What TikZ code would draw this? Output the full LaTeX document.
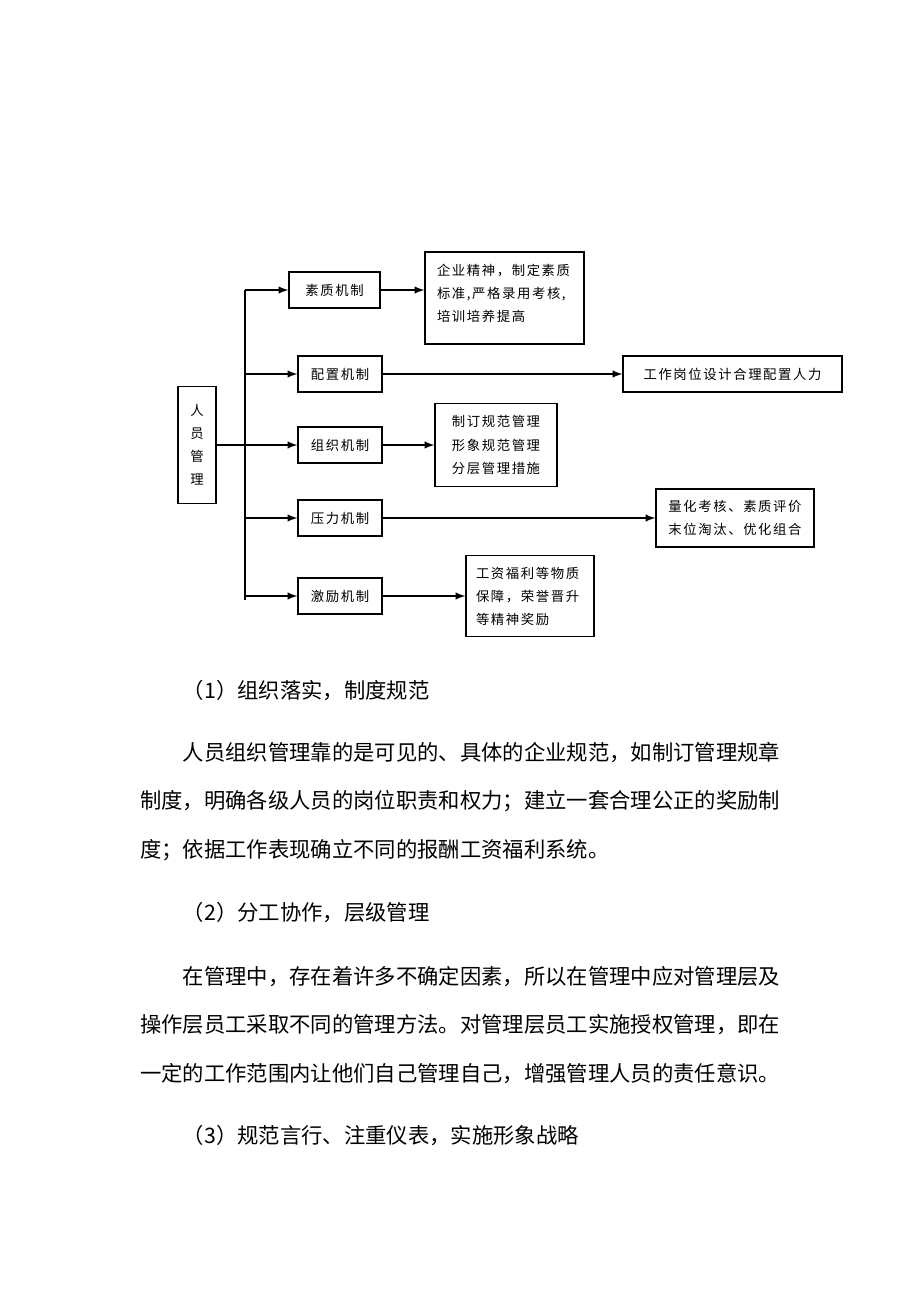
\documentclass[tikz,border=0pt]{standalone}
\usepackage{fontspec}
\usepackage{xcolor}
\usepackage{tikz}
\usetikzlibrary{shapes,arrows}
\newfontfamily\cjk{Noto Sans CJK SC}
\newfontfamily\cjkbox[LetterSpace=12]{Noto Sans CJK SC}
\tikzstyle{head} = [rectangle, draw, line width=0.9pt, minimum width=0.95cm,
    minimum height=2.925cm, inner sep=0pt, align=center,
    font=\cjkbox\fontsize{9.5pt}{16.4pt}\selectfont]
\tikzstyle{block} = [rectangle, draw, line width=0.9pt, minimum width=2.1cm,
    minimum height=0.9cm, inner sep=0pt, font=\cjkbox\fontsize{9.5pt}{16.4pt}\selectfont]
\tikzstyle{textblock} = [rectangle, draw, line width=0.9pt, inner sep=0pt,
    align=center, font=\cjkbox\fontsize{9.5pt}{16.4pt}\selectfont]
\tikzstyle{arrow} = [draw, -latex, line width=1.4pt]
\tikzstyle{line} = [draw, line width=1pt]
\tikzstyle{heading} = [anchor=base west, inner sep=0pt,
    font=\cjk\fontsize{15.17pt}{34.5pt}\selectfont]
\tikzstyle{para} = [anchor=base west, inner sep=0pt, text width=16cm, align=left,
    font=\cjk\fontsize{15.17pt}{34.5pt}\selectfont]

\begin{document}
\begin{tikzpicture}[node distance = 2cm, auto]
			\path [use as bounding box, fill=white] (0,0) rectangle (23,-32.55);
			% Place nodes
			\node [block, minimum width=2.275cm] at (8.3625,-7.25) (qualityMechanism) {素质机制};
			\node [block, below of=qualityMechanism, node distance=2.1cm, xshift=0.1375cm] (allocationMechanism) {配置机制};
			\node [block, below of=allocationMechanism, node distance=1.775cm] (organizationMechanism) {组织机制};
			\node [block, below of=organizationMechanism, node distance=1.825cm] (pressureMechanism) {压力机制};
			\node [block, below of=pressureMechanism, node distance=1.95cm] (incentiveMechanism) {激励机制};
			\node [head, left of=organizationMechanism, node distance=3.575cm] (staffManagement) {人\\员\\管\\理};
			%
			\node [textblock, right of=qualityMechanism, node distance=4.25cm, yshift=-0.2cm,
				minimum width=3.975cm, text width=3.375cm, align=left,
				text height=0.58cm, text depth=1.72cm] (qualityMeasures) {企业精神，制定素质\\标准,严格录用考核,\\培训培养提高};
			\node [textblock, right of=allocationMechanism, node distance=9.8125cm,
				minimum width=5.475cm, minimum height=0.9cm] (jobDesign) {工作岗位设计合理配置人力};
			\node [textblock, right of=organizationMechanism, node distance=3.9cm,
				minimum width=3.05cm, minimum height=2.075cm] (normMeasures) {制订规范管理\\形象规范管理\\分层管理措施};
			\node [textblock, right of=pressureMechanism, node distance=9.875cm,
				minimum width=3.95cm, minimum height=1.45cm] (assessment) {量化考核、素质评价\\末位淘汰、优化组合};
			\node [textblock, right of=incentiveMechanism, node distance=4.75cm,
				minimum width=3.2cm, minimum height=2.025cm, text width=2.7cm, align=left] (rewards) {工资福利等物质\\保障，荣誉晋升\\等精神奖励};
			%
			\coordinate (trunkTop) at (6.125,-7.25);
			\coordinate (trunkBottom) at (6.125,-15.0);
			\path [line] (trunkTop) -- (trunkBottom);
			\path [line] (staffManagement) -- (staffManagement -| trunkTop);
			\path [arrow] (trunkTop) -- (qualityMechanism);
			\path [arrow] (trunkTop |- allocationMechanism) -- (allocationMechanism);
			\path [arrow] (trunkTop |- organizationMechanism) -- (organizationMechanism);
			\path [arrow] (trunkTop |- pressureMechanism) -- (pressureMechanism);
			\path [arrow] (trunkTop |- incentiveMechanism) -- (incentiveMechanism);
			%
			\path [arrow] (qualityMechanism) -- (qualityMechanism -| qualityMeasures.west);
			\path [arrow] (allocationMechanism) -- (allocationMechanism -| jobDesign.west);
			\path [arrow] (organizationMechanism) -- (organizationMechanism -| normMeasures.west);
			\path [arrow] (pressureMechanism) -- (pressureMechanism -| assessment.west);
			\path [arrow] (incentiveMechanism) -- (incentiveMechanism -| rewards.west);
			% text below the chart
			\node [heading] at (4.5667,-17.45) (headingOne) {（1）组织落实，制度规范};
			\node [para] at (3.5,-19.0) (paraOne) {\hspace*{2em}人员组织管理靠的是可见的、具体的企业规范，如制订管理规章\\制度，明确各级人员的岗位职责和权力；建立一套合理公正的奖励制\\度；依据工作表现确立不同的报酬工资福利系统。};
			\node [heading] at (4.5667,-23.0) (headingTwo) {（2）分工协作，层级管理};
			\node [para] at (3.5,-24.6) (paraTwo) {\hspace*{2em}在管理中，存在着许多不确定因素，所以在管理中应对管理层及\\操作层员工采取不同的管理方法。对管理层员工实施授权管理，即在\\一定的工作范围内让他们自己管理自己，增强管理人员的责任意识。};
			\node [heading] at (4.5667,-28.575) (headingThree) {（3）规范言行、注重仪表，实施形象战略};
\end{tikzpicture}
\end{document}
